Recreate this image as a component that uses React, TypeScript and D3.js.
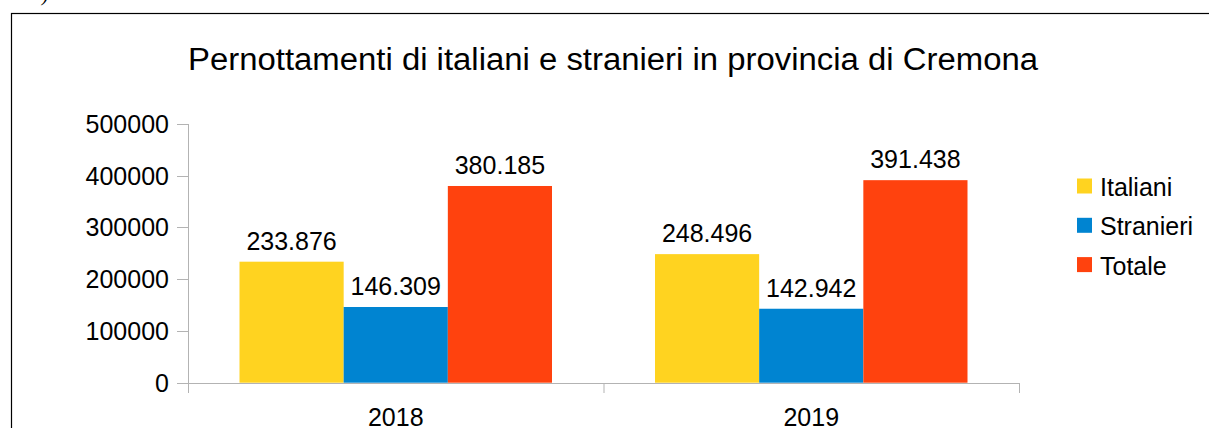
import React from "react";
import * as d3 from "d3";

const categories = ["2018", "2019"];
const seriesNames = ["Italiani", "Stranieri", "Totale"];
const italiani = [233876, 248496];
const stranieri = [146309, 142942];
const totale = [380185, 391438];
const yTicks = [0, 100000, 200000, 300000, 400000, 500000];
const colors = ["#ffd320", "#0084d1", "#ff420e"];

const W = 1209;
const H = 428;
const FONT = "'Liberation Sans', Arial, sans-serif";

export default function App() {
  const series = [italiani, stranieri, totale];
  const x0 = d3.scaleBand().domain(categories).range([188, 1019]).paddingInner(0).paddingOuter(0);
  const innerPad = 51.5;
  const x1 = d3
    .scaleBand()
    .domain(seriesNames)
    .range([innerPad, x0.bandwidth() - innerPad]);
  const y = d3.scaleLinear().domain([0, 500000]).range([382.7, 124]);
  const fmt = (v: number) => d3.format(",")(v).replace(/,/g, ".");
  const axisColor = "#b3b3b3";

  return (
    <svg
      width={W}
      height={H}
      style={{ position: "absolute", left: 0, top: 0, background: "#fff" }}
      fontFamily={FONT}
    >
      <rect x={0} y={0} width={W} height={H} fill="#fff" />
      <text x={42} y={1} fontFamily="'Liberation Serif', serif" fontStyle="italic" fontSize={20} fill="#000">
        )
      </text>
      <rect x={11.5} y={13.5} width={1400} height={600} fill="none" stroke="#000" strokeWidth={1.2} />
      <text
        x={188}
        y={70}
        fontSize={31}
        textLength={850}
        lengthAdjust="spacingAndGlyphs"
        fill="#000"
      >
        Pernottamenti di italiani e stranieri in provincia di Cremona
      </text>

      {/* y axis */}
      <line x1={188.5} x2={188.5} y1={y(500000)} y2={393} stroke={axisColor} strokeWidth={1} />
      {yTicks.map((t) => (
        <g key={t}>
          <line x1={177} x2={188.5} y1={Math.round(y(t)) + 0.5} y2={Math.round(y(t)) + 0.5} stroke={axisColor} />
          <text x={169} y={y(t) + 9} textAnchor="end" fontSize={25} fill="#000">
            {t}
          </text>
        </g>
      ))}

      {/* bars */}
      {categories.map((c, ci) => (
        <g key={c} transform={`translate(${x0(c)},0)`}>
          {series.map((s, si) => {
            const v = s[ci];
            const bx = x1(seriesNames[si]) as number;
            return (
              <g key={si}>
                <rect
                  x={bx}
                  y={y(v)}
                  width={x1.bandwidth()}
                  height={y(0) - y(v)}
                  fill={colors[si]}
                />
                <text
                  x={bx + x1.bandwidth() / 2}
                  y={y(v) - 12}
                  textAnchor="middle"
                  fontSize={25}
                  fill="#000"
                >
                  {fmt(v)}
                </text>
              </g>
            );
          })}
        </g>
      ))}

      {/* x axis */}
      <line x1={188} x2={1019} y1={383.5} y2={383.5} stroke={axisColor} strokeWidth={1} />
      {[...categories.map((c) => x0(c) as number), 1019].map((xv, i) => (
        <line key={i} x1={xv + 0.5} x2={xv + 0.5} y1={383} y2={393} stroke={axisColor} />
      ))}
      {categories.map((c) => (
        <text
          key={c}
          x={(x0(c) as number) + x0.bandwidth() / 2}
          y={426}
          textAnchor="middle"
          fontSize={25}
          fill="#000"
        >
          {c}
        </text>
      ))}

      {/* legend */}
      {seriesNames.map((n, i) => (
        <g key={n} transform={`translate(1077,${178.5 + i * 39.3})`}>
          <rect x={0} y={0} width={15} height={15} fill={colors[i]} />
          <text x={23} y={17.5} fontSize={25} fill="#000">
            {n}
          </text>
        </g>
      ))}
    </svg>
  );
}
